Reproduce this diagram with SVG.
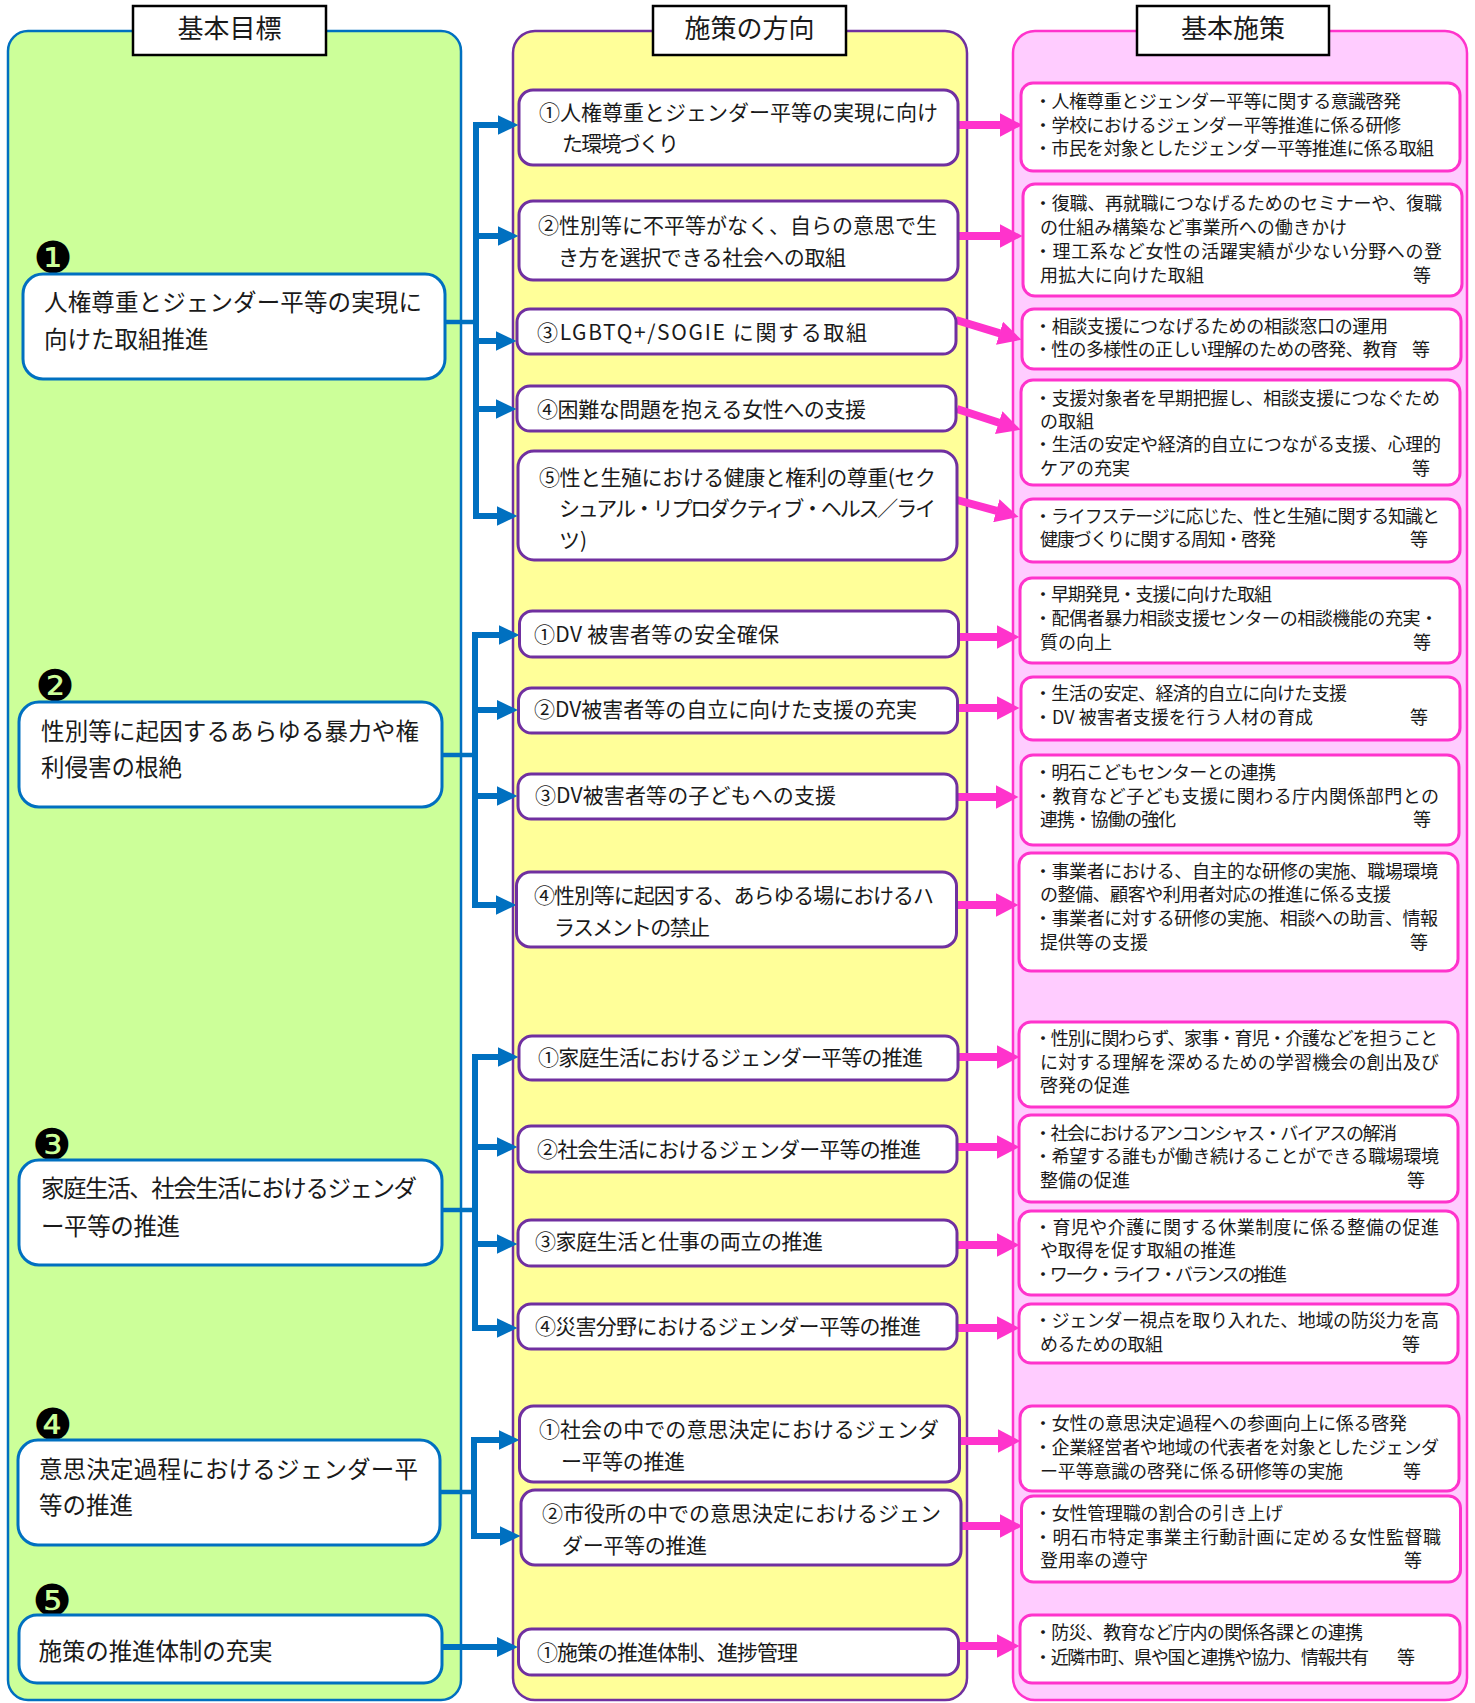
<svg xmlns="http://www.w3.org/2000/svg" width="1475" height="1703" viewBox="0 0 1475 1703">
<style>
text{font-family:"Noto Sans CJK JP","Noto Sans CJK SC",sans-serif;fill:#1a1a1a}
.hdr rect{fill:#fff;stroke:#000;stroke-width:2.5}
.hdr text{font-size:26px;text-anchor:middle}
.goal rect{fill:#fff;stroke:#0070C0;stroke-width:3}
.goal text{font-size:23.5px}
.goal .bd{font-family:"DejaVu Sans",sans-serif;font-size:44px;text-anchor:middle;fill:#000}
.dir rect{fill:#fff;stroke:#7030A0;stroke-width:3}
.dir text{font-size:21px}
.pol rect{fill:#fff;stroke:#FF33CC;stroke-width:3}
.pol text{font-size:18px}
.bl{fill:none;stroke:#0070C0;stroke-width:6}
.st{fill:none;stroke:#0070C0;stroke-width:4.5}
.pk{fill:none;stroke:#FF33CC;stroke-width:8}
.ba{marker-end:url(#ab)}
.pa{marker-end:url(#ap)}
</style>
<defs>
<marker id="ab" markerUnits="userSpaceOnUse" markerWidth="22" markerHeight="20" refX="0.5" refY="10" orient="auto"><path d="M0,0 L21,10 L0,20 Z" fill="#0070C0"/></marker>
<marker id="ap" markerUnits="userSpaceOnUse" markerWidth="24" markerHeight="24" refX="0.5" refY="12" orient="auto"><path d="M0,0 L23,12 L0,24 Z" fill="#FF33CC"/></marker>
</defs>
<rect width="1475" height="1703" fill="#fff"/>
<g id="panels">
<rect x="8" y="31" width="453" height="1669" rx="20" fill="#CCFF99" stroke="#0070C0" stroke-width="2.5"/>
<rect x="513" y="31" width="454" height="1669" rx="22" fill="#FFFF99" stroke="#7030A0" stroke-width="2.5"/>
<rect x="1013" y="31" width="454" height="1669" rx="22" fill="#FFCCFF" stroke="#FF33CC" stroke-width="2.5"/>
</g>
<g id="h1" class="hdr"><rect x="133" y="6" width="193" height="49"/><text x="229.5" y="38">基本目標</text></g>
<g id="h2" class="hdr"><rect x="653" y="6" width="193" height="49"/><text x="749.5" y="38">施策の方向</text></g>
<g id="h3" class="hdr"><rect x="1137" y="6" width="192" height="49"/><text x="1233" y="38">基本施策</text></g>

<g id="connectors">
<path class="bl" d="M476,122 V519"/>
<path class="st" d="M445,322 H476"/>
<path class="bl ba" d="M476,125 H498"/>
<path class="bl ba" d="M476,236 H498"/>
<path class="bl ba" d="M476,341 H496"/>
<path class="bl ba" d="M476,409 H496"/>
<path class="bl ba" d="M476,516 H497"/>
<path class="bl" d="M475,632 V908"/>
<path class="st" d="M442,755 H475"/>
<path class="bl ba" d="M475,635 H499"/>
<path class="bl ba" d="M475,710 H497.5"/>
<path class="bl ba" d="M475,796 H497"/>
<path class="bl ba" d="M475,905 H496"/>
<path class="bl" d="M475,1054 V1331"/>
<path class="st" d="M442,1210 H475"/>
<path class="bl ba" d="M475,1057 H498"/>
<path class="bl ba" d="M475,1147 H497"/>
<path class="bl ba" d="M475,1244 H497"/>
<path class="bl ba" d="M475,1328 H497"/>
<path class="bl" d="M474,1437 V1539"/>
<path class="st" d="M440,1492 H474"/>
<path class="bl ba" d="M474,1440 H499"/>
<path class="bl ba" d="M474,1536 H500"/>
<path class="bl ba" d="M442,1647 H497.5"/>

<path class="pk pa" d="M958,125 H1000"/>
<path class="pk pa" d="M958,236 H1000"/>
<path class="pk pa" d="M956,320 L1000,333.3"/>
<path class="pk pa" d="M957,409 L999.2,422.8"/>
<path class="pk pa" d="M957,500 L996.8,510.9"/>
<path class="pk pa" d="M959,637 H997"/>
<path class="pk pa" d="M958,708 H997"/>
<path class="pk pa" d="M958,797 H996"/>
<path class="pk pa" d="M957,905 H996"/>
<path class="pk pa" d="M959,1057 H997"/>
<path class="pk pa" d="M958,1147 H997"/>
<path class="pk pa" d="M958,1245 H997"/>
<path class="pk pa" d="M958,1328 H997"/>
<path class="pk pa" d="M960,1441 H998"/>
<path class="pk pa" d="M961,1526 H1000"/>
<path class="pk pa" d="M959,1646 H997"/>
</g>

<g id="g1" class="goal"><text class="bd" x="53" y="273">❶</text><rect x="23" y="274" width="422" height="105" rx="20"/><text x="44" y="311" textLength="378">人権尊重とジェンダー平等の実現に</text><text x="44" y="348">向けた取組推進</text></g>
<g id="g2" class="goal"><text class="bd" x="55" y="701">❷</text><rect x="19" y="702" width="423" height="105" rx="20"/><text x="41" y="740" textLength="378">性別等に起因するあらゆる暴力や権</text><text x="41" y="776">利侵害の根絶</text></g>
<g id="g3" class="goal"><text class="bd" x="52" y="1160">❸</text><rect x="19" y="1160" width="423" height="105" rx="20"/><text x="41" y="1197" textLength="376">家庭生活、社会生活におけるジェンダ</text><text x="41" y="1235" textLength="139">ー平等の推進</text></g>
<g id="g4" class="goal"><text class="bd" x="53" y="1440">❹</text><rect x="18" y="1440" width="422" height="105" rx="20"/><text x="39" y="1478" textLength="379">意思決定過程におけるジェンダー平</text><text x="39" y="1514">等の推進</text></g>
<g id="g5" class="goal"><text class="bd" x="52" y="1616">❺</text><rect x="19" y="1615" width="423" height="68" rx="18"/><text x="38.5" y="1660" textLength="234">施策の推進体制の充実</text></g>

<g id="d1-1" class="dir"><rect x="519" y="90" width="439" height="75" rx="14"/><text x="539" y="120" textLength="399">①人権尊重とジェンダー平等の実現に向け</text><text x="562" y="151" textLength="117">た環境づくり</text></g>
<g id="d1-2" class="dir"><rect x="519" y="201" width="439" height="79" rx="14"/><text x="538" y="233" textLength="399">②性別等に不平等がなく、自らの意思で生</text><text x="558" y="265" textLength="288">き方を選択できる社会への取組</text></g>
<g id="d1-3" class="dir"><rect x="517" y="309" width="439" height="45" rx="13"/><text x="537" y="340" textLength="330">③LGBTQ+/SOGIE に関する取組</text></g>
<g id="d1-4" class="dir"><rect x="517" y="386" width="439" height="45" rx="13"/><text x="537" y="416.5" textLength="329">④困難な問題を抱える女性への支援</text></g>
<g id="d1-5" class="dir"><rect x="518" y="451" width="439" height="109" rx="16"/><text x="539" y="485" textLength="397">⑤性と生殖における健康と権利の尊重(セク</text><text x="559" y="516" textLength="377">シュアル・リプロダクティブ・ヘルス／ライ</text><text x="559" y="548">ツ)</text></g>
<g id="d2-1" class="dir"><rect x="519.5" y="611" width="439" height="46" rx="13"/><text x="534" y="641.5" textLength="245">①DV 被害者等の安全確保</text></g>
<g id="d2-2" class="dir"><rect x="518.5" y="688" width="439" height="45" rx="13"/><text x="534" y="717" textLength="383">②DV被害者等の自立に向けた支援の充実</text></g>
<g id="d2-3" class="dir"><rect x="518" y="774" width="439" height="45" rx="13"/><text x="535" y="803" textLength="301">③DV被害者等の子どもへの支援</text></g>
<g id="d2-4" class="dir"><rect x="516.5" y="872" width="440" height="75" rx="14"/><text x="534" y="903" textLength="400">④性別等に起因する、あらゆる場におけるハ</text><text x="554" y="935" textLength="156">ラスメントの禁止</text></g>
<g id="d3-1" class="dir"><rect x="519" y="1036" width="439" height="44" rx="13"/><text x="538" y="1065" textLength="385">①家庭生活におけるジェンダー平等の推進</text></g>
<g id="d3-2" class="dir"><rect x="518" y="1126" width="439" height="46" rx="13"/><text x="537" y="1156.5" textLength="384">②社会生活におけるジェンダー平等の推進</text></g>
<g id="d3-3" class="dir"><rect x="518" y="1220" width="439" height="46" rx="13"/><text x="535" y="1249" textLength="288">③家庭生活と仕事の両立の推進</text></g>
<g id="d3-4" class="dir"><rect x="518" y="1304" width="439" height="45" rx="13"/><text x="535" y="1333.5" textLength="386">④災害分野におけるジェンダー平等の推進</text></g>
<g id="d4-1" class="dir"><rect x="519.5" y="1406" width="440" height="76" rx="14"/><text x="539" y="1437" textLength="400">①社会の中での意思決定におけるジェンダ</text><text x="561" y="1468.5" textLength="124">ー平等の推進</text></g>
<g id="d4-2" class="dir"><rect x="521" y="1490" width="440" height="75" rx="14"/><text x="542" y="1521" textLength="399">②市役所の中での意思決定におけるジェン</text><text x="562" y="1553" textLength="145">ダー平等の推進</text></g>
<g id="d5-1" class="dir"><rect x="518.5" y="1629" width="440" height="46" rx="13"/><text x="537" y="1659.5" textLength="261">①施策の推進体制、進捗管理</text></g>

<g id="p1" class="pol"><rect x="1021" y="83" width="439" height="88" rx="12"/><text x="1034" y="108" textLength="367">・人権尊重とジェンダー平等に関する意識啓発</text><text x="1034" y="131.5" textLength="367">・学校におけるジェンダー平等推進に係る研修</text><text x="1034" y="155" textLength="400">・市民を対象としたジェンダー平等推進に係る取組</text></g>
<g id="p2" class="pol"><rect x="1023" y="184" width="439" height="112" rx="12"/><text x="1034" y="210" textLength="408">・復職、再就職につなげるためのセミナーや、復職</text><text x="1040" y="234" textLength="307">の仕組み構築など事業所への働きかけ</text><text x="1034" y="258" textLength="408">・理工系など女性の活躍実績が少ない分野への登</text><text x="1040" y="282" textLength="164">用拡大に向けた取組</text><text x="1413" y="282">等</text></g>
<g id="p3" class="pol"><rect x="1022" y="309" width="439" height="60" rx="12"/><text x="1034" y="333" textLength="354">・相談支援につなげるための相談窓口の運用</text><text x="1034" y="356" textLength="364">・性の多様性の正しい理解のための啓発、教育</text><text x="1412" y="356">等</text></g>
<g id="p4" class="pol"><rect x="1021" y="380" width="439" height="105" rx="12"/><text x="1034" y="405" textLength="406">・支援対象者を早期把握し、相談支援につなぐため</text><text x="1040" y="428">の取組</text><text x="1034" y="451" textLength="407">・生活の安定や経済的自立につながる支援、心理的</text><text x="1040" y="475">ケアの充実</text><text x="1412" y="475">等</text></g>
<g id="p5" class="pol"><rect x="1021" y="499" width="439" height="63" rx="12"/><text x="1034" y="523" textLength="406">・ライフステージに応じた、性と生殖に関する知識と</text><text x="1040" y="546" textLength="236">健康づくりに関する周知・啓発</text><text x="1410" y="546">等</text></g>
<g id="p6" class="pol"><rect x="1020" y="578" width="440" height="85" rx="12"/><text x="1034" y="601" textLength="238">・早期発見・支援に向けた取組</text><text x="1034" y="625" textLength="404">・配偶者暴力相談支援センターの相談機能の充実・</text><text x="1040" y="649">質の向上</text><text x="1413" y="649">等</text></g>
<g id="p7" class="pol"><rect x="1021" y="677" width="439" height="63" rx="12"/><text x="1034" y="700" textLength="313">・生活の安定、経済的自立に向けた支援</text><text x="1034" y="724" textLength="279">・DV 被害者支援を行う人材の育成</text><text x="1410" y="724">等</text></g>
<g id="p8" class="pol"><rect x="1021" y="755" width="438" height="90" rx="12"/><text x="1034" y="779" textLength="242">・明石こどもセンターとの連携</text><text x="1034" y="803" textLength="405">・教育など子ども支援に関わる庁内関係部門との</text><text x="1040" y="826" textLength="136">連携・協働の強化</text><text x="1413" y="826">等</text></g>
<g id="p9" class="pol"><rect x="1019" y="853" width="439" height="118" rx="12"/><text x="1034" y="878" textLength="404">・事業者における、自主的な研修の実施、職場環境</text><text x="1040" y="901" textLength="351">の整備、顧客や利用者対応の推進に係る支援</text><text x="1034" y="925" textLength="404">・事業者に対する研修の実施、相談への助言、情報</text><text x="1040" y="949">提供等の支援</text><text x="1410" y="949">等</text></g>
<g id="p10" class="pol"><rect x="1019" y="1022" width="439" height="85" rx="12"/><text x="1034" y="1045" textLength="404">・性別に関わらず、家事・育児・介護などを担うこと</text><text x="1040" y="1068.5" textLength="399">に対する理解を深めるための学習機会の創出及び</text><text x="1040" y="1092">啓発の促進</text></g>
<g id="p11" class="pol"><rect x="1019" y="1115" width="439" height="87" rx="12"/><text x="1034" y="1140" textLength="363">・社会におけるアンコンシャス・バイアスの解消</text><text x="1034" y="1163" textLength="405">・希望する誰もが働き続けることができる職場環境</text><text x="1040" y="1187">整備の促進</text><text x="1407" y="1187">等</text></g>
<g id="p12" class="pol"><rect x="1019" y="1211" width="439" height="84" rx="12"/><text x="1034" y="1234" textLength="405">・育児や介護に関する休業制度に係る整備の促進</text><text x="1040" y="1257" textLength="196">や取得を促す取組の推進</text><text x="1034" y="1281" textLength="253">・ワーク・ライフ・バランスの推進</text></g>
<g id="p13" class="pol"><rect x="1019" y="1304" width="439" height="59" rx="12"/><text x="1034" y="1327" textLength="405">・ジェンダー視点を取り入れた、地域の防災力を高</text><text x="1040" y="1351" textLength="123">めるための取組</text><text x="1402" y="1351">等</text></g>
<g id="p14" class="pol"><rect x="1020" y="1406" width="439" height="85" rx="12"/><text x="1034" y="1430" textLength="373">・女性の意思決定過程への参画向上に係る啓発</text><text x="1034" y="1454" textLength="405">・企業経営者や地域の代表者を対象としたジェンダ</text><text x="1040" y="1478" textLength="303">ー平等意識の啓発に係る研修等の実施</text><text x="1403" y="1478">等</text></g>
<g id="p15" class="pol"><rect x="1021.5" y="1496" width="439" height="86" rx="12"/><text x="1034" y="1520" textLength="249">・女性管理職の割合の引き上げ</text><text x="1034" y="1544" textLength="407">・明石市特定事業主行動計画に定める女性監督職</text><text x="1040" y="1567">登用率の遵守</text><text x="1404" y="1567">等</text></g>
<g id="p16" class="pol"><rect x="1020" y="1615" width="440" height="68" rx="12"/><text x="1034" y="1639" textLength="329">・防災、教育など庁内の関係各課との連携</text><text x="1034" y="1664" textLength="335">・近隣市町、県や国と連携や協力、情報共有</text><text x="1397" y="1664">等</text></g>
</svg>
